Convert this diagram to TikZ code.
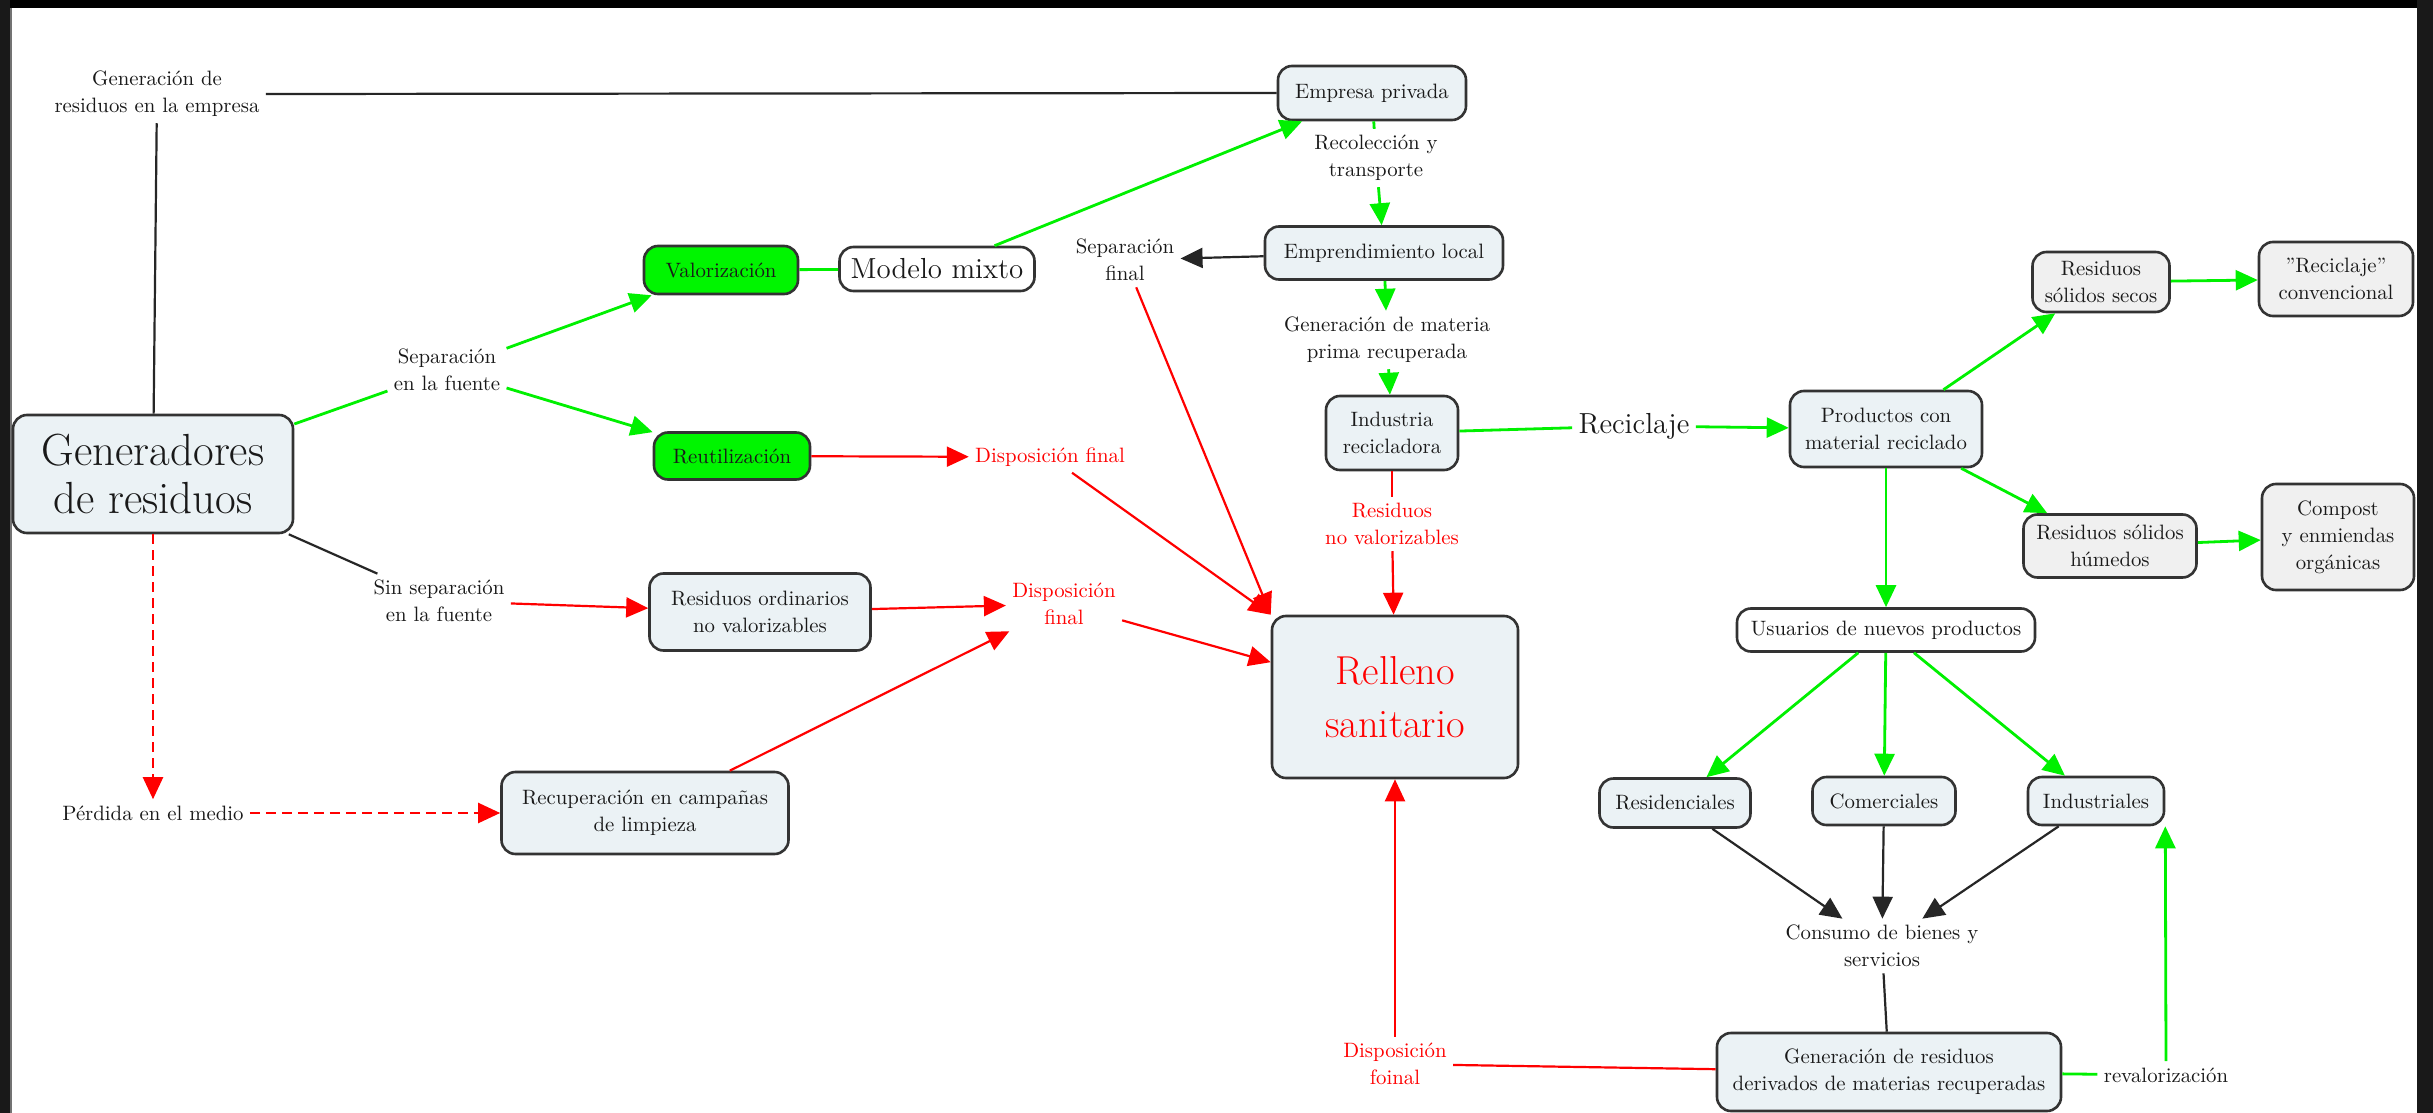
\documentclass[tikz,border=0pt]{standalone}
\usetikzlibrary{arrows.meta}
\definecolor{boxblue}{RGB}{235,242,245}
\definecolor{boxgray}{RGB}{240,240,240}
\definecolor{vgreen}{RGB}{0,245,0}
\definecolor{lgreen}{RGB}{0,240,0}
\definecolor{vred}{RGB}{255,0,0}
\definecolor{txt}{RGB}{25,25,25}
\begin{document}
\begin{tikzpicture}[x=0.5pt,y=-0.5pt,
  smallfont/.style={font=\fontsize{10.4}{13.5}\selectfont},
  concept/.style={draw=black!80, line width=1.3pt, rounded corners=7pt, fill=boxblue,
    align=center, smallfont, text=txt, inner sep=2pt},
  graybox/.style={concept, fill=boxgray},
  whitebox/.style={concept, fill=white},
  greenbox/.style={concept, fill=vgreen},
  lbl/.style={align=center, smallfont, text=txt, inner sep=3pt},
  redlbl/.style={lbl, text=vred},
  tip/.style={-{Triangle[length=11pt,width=10pt]}},
  gline/.style={draw=lgreen, line width=1.4pt},
  garrow/.style={gline, tip},
  rline/.style={draw=vred, line width=1.1pt},
  rarrow/.style={rline, tip},
  rdash/.style={rarrow, dash pattern=on 5pt off 3pt},
  bline/.style={draw=black!85, line width=1.1pt},
  barrow/.style={bline, tip}
]
% page and frame
\fill[white] (0,0) rectangle (2433,1113);
\useasboundingbox (0,0) rectangle (2433,1113);
\fill[black] (0,0) rectangle (2433,8);
\fill[black!90] (0,0) rectangle (10,1113);
\fill[black!55] (10,8) rectangle (12,1113);
\fill[black!90] (2417,0) rectangle (2433,1113);

% concepts
\node[concept, minimum width=140pt, minimum height=59pt, font=\fontsize{22.5}{24}\selectfont] (gen) at (153,474) {Generadores\\de residuos};
\node[concept, minimum width=94pt, minimum height=27pt] (empresa) at (1372,93) {Empresa privada};
\node[greenbox, minimum width=77pt, minimum height=24pt] (valor) at (721,270) {Valorización};
\node[greenbox, minimum width=78pt, minimum height=23.5pt] (reutil) at (732,456) {Reutilización};
\node[whitebox, minimum width=97.5pt, minimum height=22pt, font=\fontsize{14.5}{17}\selectfont] (mixto) at (937,269) {Modelo mixto};
\node[concept, minimum width=119pt, minimum height=26.5pt] (empr) at (1384,253) {Emprendimiento local};
\node[concept, minimum width=66pt, minimum height=37pt] (industria) at (1392,433) {Industria\\recicladora};
\node[concept, minimum width=96pt, minimum height=38pt] (productos) at (1886,429) {Productos con\\material reciclado};
\node[graybox, minimum width=68.5pt, minimum height=30pt] (secos) at (2101,282) {Residuos\\sólidos secos};
\node[graybox, minimum width=77pt, minimum height=37pt] (reccon) at (2336,279) {\symbol{34}Reciclaje\symbol{34}\\convencional};
\node[graybox, minimum width=86.5pt, minimum height=31.5pt] (humedos) at (2110,546) {Residuos sólidos\\húmedos};
\node[graybox, minimum width=76pt, minimum height=53pt] (compost) at (2338,537) {Compost\\y enmiendas\\orgánicas};
\node[whitebox, minimum width=149pt, minimum height=21.5pt] (usuarios) at (1886,630) {Usuarios de nuevos productos};
\node[concept, minimum width=75.5pt, minimum height=24.5pt] (resid) at (1675,803) {Residenciales};
\node[concept, minimum width=71.5pt, minimum height=24pt] (comer) at (1884,801) {Comerciales};
\node[concept, minimum width=68pt, minimum height=24pt] (indus) at (2096,801) {Industriales};
\node[concept, minimum width=172pt, minimum height=39pt] (genres) at (1889,1072) {Generación de residuos\\derivados de materias recuperadas};
\node[concept, minimum width=123pt, minimum height=81pt, text=vred, font=\fontsize{20.2}{26.5}\selectfont] (relleno) at (1395,697) {Relleno\\sanitario};
\node[concept, minimum width=110.5pt, minimum height=38.5pt] (resord) at (760,612) {Residuos ordinarios\\no valorizables};
\node[concept, minimum width=143.5pt, minimum height=41pt] (recup) at (645,813) {Recuperación en campañas\\de limpieza};

% linking phrases
\node[lbl] (Lgenemp) at (157,94) {Generación de\\residuos en la empresa};
\node[lbl] (Lsep) at (447,370) {Separación\\en la fuente};
\node[lbl] (Lsinsep) at (439,601) {Sin separación\\en la fuente};
\node[lbl] (Lperd) at (153,813) {Pérdida en el medio};
\node[redlbl] (Ldispa) at (1050,457) {Disposición final};
\node[redlbl] (Ldispb) at (1064,604) {Disposición\\final};
\node[lbl] (Lsepfin) at (1125,260) {Separación\\final};
\node[lbl] (Lrecol) at (1376,158) {Recolección y\\transporte};
\node[lbl] (Lgenmat) at (1387,340) {Generación de materia\\prima recuperada};
\node[redlbl] (Lresnv) at (1392,524) {Residuos\\no valorizables};
\node[lbl, font=\fontsize{14.5}{17}\selectfont] (Lrecic) at (1634,426) {Reciclaje};
\node[lbl] (Lconsumo) at (1882,946) {Consumo de bienes y\\servicios};
\node[redlbl] (Ldispf) at (1395,1064) {Disposición\\foinal};
\node[lbl] (Lreval) at (2166,1075) {revalorización};

% connectors
\draw[bline] (gen) -- (Lgenemp);
\draw[bline] (Lgenemp.east) -- (empresa.west);
\draw[gline] (gen) -- (Lsep);
\draw[garrow] (Lsep) -- (valor);
\draw[garrow] (Lsep) -- (reutil);
\draw[gline] (valor) -- (mixto);
\draw[garrow] (mixto) -- (empresa);
\draw[gline] (empresa) -- (Lrecol);
\draw[garrow] (Lrecol) -- (empr);
\draw[barrow] (empr) -- (Lsepfin);
\draw[garrow] (empr) -- (Lgenmat);
\draw[garrow] (Lgenmat) -- (industria);
\draw[gline] (industria) -- (Lrecic);
\draw[garrow] (Lrecic) -- (productos);
\draw[rline] (industria) -- (Lresnv);
\draw[rarrow] (Lresnv) -- (relleno);
\draw[rarrow] (Lsepfin) -- (relleno.north west);
\draw[rarrow] (reutil) -- (Ldispa);
\draw[rarrow] (Ldispa) -- (relleno.north west);
\draw[bline] (gen) -- (Lsinsep);
\draw[rarrow] (Lsinsep) -- (resord);
\draw[rarrow] (resord) -- (Ldispb);
\draw[rarrow] (recup) -- (Ldispb);
\draw[rarrow] (Ldispb) -- (relleno);
\draw[rdash] (gen) -- (Lperd);
\draw[rdash] (Lperd) -- (recup);
\draw[garrow] (productos) -- (secos);
\draw[garrow] (secos) -- (reccon);
\draw[garrow] (productos) -- (humedos);
\draw[garrow] (humedos) -- (compost);
\draw[garrow] (productos) -- (usuarios);
\draw[garrow] (usuarios) -- (resid);
\draw[garrow] (usuarios) -- (comer);
\draw[garrow] (usuarios) -- (indus);
\draw[barrow] (resid) -- (Lconsumo);
\draw[barrow] (comer) -- (Lconsumo);
\draw[barrow] (indus) -- (Lconsumo);
\draw[bline] (Lconsumo) -- (genres);
\draw[rline] (genres) -- (Ldispf);
\draw[rarrow] (Ldispf) -- (relleno);
\draw[gline] (genres) -- (Lreval);
\draw[garrow] (Lreval.north) -- (indus.south east);
\end{tikzpicture}
\end{document}
